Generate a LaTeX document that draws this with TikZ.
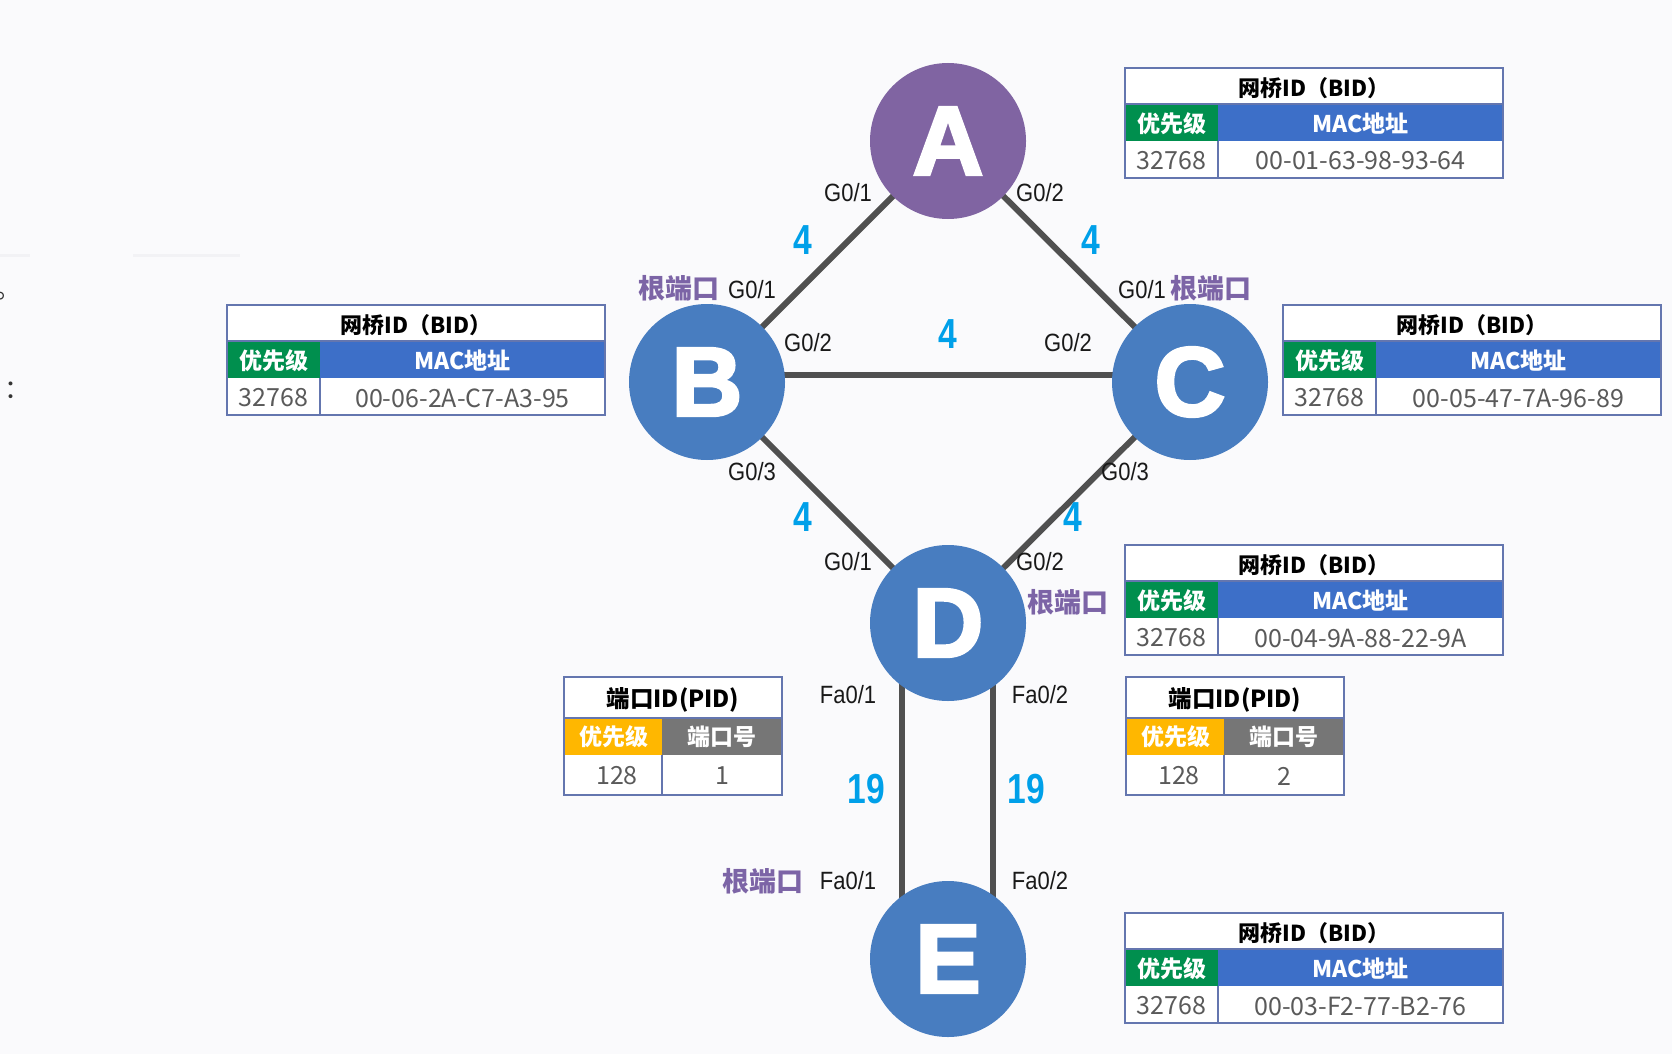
\documentclass[tikz,border=0pt]{standalone}
\usepackage{fontspec}
\setmainfont{Liberation Sans}
\newfontfamily\cjk{Noto Sans CJK SC}
\newfontfamily\lblfont{Liberation Sans}[FakeStretch=0.88]
\newfontfamily\numfont{Liberation Sans}[FakeStretch=0.8]
\newfontfamily\letfont{Liberation Sans}[BoldFeatures={FakeBold=3}]
\usetikzlibrary{calc}
\definecolor{bgc}{RGB}{250,250,252}
\definecolor{purpA}{RGB}{128,100,162}
\definecolor{blueN}{RGB}{72,125,192}
\definecolor{linkc}{RGB}{80,80,80}
\definecolor{cyanN}{RGB}{0,160,233}
\definecolor{rootc}{RGB}{124,100,166}
\definecolor{hdgreen}{RGB}{0,143,78}
\definecolor{hdblue}{RGB}{61,111,200}
\definecolor{hdgold}{RGB}{255,183,0}
\definecolor{hdgray}{RGB}{118,118,118}
\definecolor{tblb}{RGB}{100,118,175}
\definecolor{valc}{RGB}{90,90,90}
\definecolor{faint}{RGB}{242,242,245}
\pgfdeclarelayer{bglayer}
\pgfdeclarelayer{linklayer}
\pgfsetlayers{bglayer,linklayer,main}
\tikzset{
  sw/.style={circle, minimum size=156pt, inner sep=0pt, text=white,
    font=\letfont\bfseries\fontsize{98}{98}\selectfont},
  link/.style={line width=6pt, draw=linkc},
  port/.style={inner sep=0pt, text=black!90, font=\lblfont\fontsize{25}{25}\selectfont},
  cost/.style={inner sep=0pt, text=cyanN, font=\numfont\bfseries\fontsize{42}{42}\selectfont},
  rootlbl/.style={inner sep=0pt, text=rootc, font=\cjk\bfseries\fontsize{27}{27}\selectfont},
  ttl/.style={inner sep=0pt, text=black, font=\cjk\bfseries\fontsize{22}{22}\selectfont},
  hdr/.style={inner sep=0pt, text=white, font=\cjk\bfseries\fontsize{23}{23}\selectfont},
  val/.style={inner sep=0pt, text=valc, font=\cjk\fontsize{25}{25}\selectfont},
  tbl/.style={draw=tblb, line width=1.3pt},
}
% BID table: #1 name, #2 x, #3 y, #4 MAC
\newcommand\bidtable[4]{%
  \begin{scope}[shift={(#2,#3)}]
    \fill[white] (0,0) rectangle (378,110);
    \fill[hdgreen] (0,36) rectangle (93,73);
    \fill[hdblue] (93,36) rectangle (378,73);
    \draw[tbl] (0,0) rectangle (378,110);
    \draw[tbl] (0,36) -- (378,36);
    \draw[tbl] (93,73) -- (93,110);
    \node[ttl] (#1t) at (189,20) {网桥ID（BID）};
    \node[hdr] (#1h1) at (46.5,56) {优先级};
    \node[hdr] (#1h2) at (235.5,56) {MAC地址};
    \node[val] (#1v1) at (46.5,93) {32768};
    \node[val] (#1v2) at (235.5,93) {#4};
  \end{scope}}
% PID table: #1 name, #2 x, #3 y, #4 port number
\newcommand\pidtable[4]{%
  \begin{scope}[shift={(#2,#3)}]
    \fill[white] (0,0) rectangle (218,118);
    \fill[hdgold] (0,41) rectangle (98,78);
    \fill[hdgray] (98,41) rectangle (218,78);
    \draw[tbl] (0,0) rectangle (218,118);
    \draw[tbl] (0,41) -- (218,41);
    \draw[tbl] (98,78) -- (98,118);
    \node[ttl, font=\cjk\bfseries\fontsize{23.5}{23.5}\selectfont] (#1t) at (109,23) {端口ID(PID)};
    \node[hdr] (#1h1) at (50,60) {优先级};
    \node[hdr] (#1h2) at (158,60) {端口号};
    \node[val] (#1v1) at (53,99) {128};
    \node[val] (#1v2) at (158,99) {#4};
  \end{scope}}
\begin{document}
\begin{tikzpicture}[x=1pt,y=-1pt]
\useasboundingbox (0,0) rectangle (1672,1054);
\begin{pgfonlayer}{bglayer}
  \fill[bgc] (0,0) rectangle (1672,1054);
  \draw[faint, line width=3pt] (0,255) -- (30,255);
  \draw[faint, line width=3pt] (133,255) -- (240,255);
\end{pgfonlayer}
% left-edge fragments
\node[inner sep=0pt, anchor=base west, text=black!80, font=\cjk\fontsize{26}{26}\selectfont] (frag1) at (-5,298) {。};
\node[inner sep=0pt, anchor=base west, text=black!80, font=\cjk\fontsize{26}{26}\selectfont] (frag2) at (4,398) {：};
% switches
\node[sw, fill=purpA] (A) at (948,141) {A};
\node[sw, fill=blueN] (B) at (707,382) {B};
\node[sw, fill=blueN] (C) at (1190,382) {C};
\node[sw, fill=blueN] (D) at (948,623) {D};
\node[sw, fill=blueN] (E) at (948,959) {E};
% links
\begin{pgfonlayer}{linklayer}
  \draw[link] (A.center) -- (B.center);
  \draw[link] (A.center) -- (C.center);
  \draw[link] ($(B.center)+(0,-7)$) -- ($(C.center)+(0,-7)$);
  \draw[link] (B.center) -- (D.center);
  \draw[link] (C.center) -- (D.center);
  \draw[link] ($(D.center)+(-46,0)$) -- ($(E.center)+(-46,0)$);
  \draw[link] ($(D.center)+(45,0)$) -- ($(E.center)+(45,0)$);
\end{pgfonlayer}
% port labels
\node[port] (pA1) at (848,193) {G0/1};
\node[port] (pA2) at (1040,193) {G0/2};
\node[port] (pB1) at (752,290) {G0/1};
\node[port] (pB2) at (808,343) {G0/2};
\node[port] (pB3) at (752,472) {G0/3};
\node[port] (pC1) at (1142,290) {G0/1};
\node[port] (pC2) at (1068,343) {G0/2};
\node[port] (pC3) at (1125,472) {G0/3};
\node[port] (pD1) at (848,562) {G0/1};
\node[port] (pD2) at (1040,562) {G0/2};
\node[port] (pD3) at (848,695) {Fa0/1};
\node[port] (pD4) at (1040,695) {Fa0/2};
\node[port] (pE1) at (848,881) {Fa0/1};
\node[port] (pE2) at (1040,881) {Fa0/2};
% costs
\node[cost] (cAB) at (803,240) {4};
\node[cost] (cAC) at (1091,240) {4};
\node[cost] (cBC) at (948,334) {4};
\node[cost] (cBD) at (803,517) {4};
\node[cost] (cCD) at (1073,517) {4};
\node[cost] (cDE1) at (866,789) {19};
\node[cost] (cDE2) at (1026,789) {19};
% root ports
\node[rootlbl] (rB) at (679,288) {根端口};
\node[rootlbl] (rC) at (1211,288) {根端口};
\node[rootlbl] (rD) at (1068,602) {根端口};
\node[rootlbl] (rE) at (763,881) {根端口};
% tables
\bidtable{tA}{1125}{68}{00-01-63-98-93-64}
\bidtable{tB}{227}{305}{00-06-2A-C7-A3-95}
\bidtable{tC}{1283}{305}{00-05-47-7A-96-89}
\bidtable{tD}{1125}{545}{00-04-9A-88-22-9A}
\bidtable{tE}{1125}{913}{00-03-F2-77-B2-76}
\pidtable{pidL}{564}{677}{1}
\pidtable{pidR}{1126}{677}{2}
\end{tikzpicture}
\end{document}
